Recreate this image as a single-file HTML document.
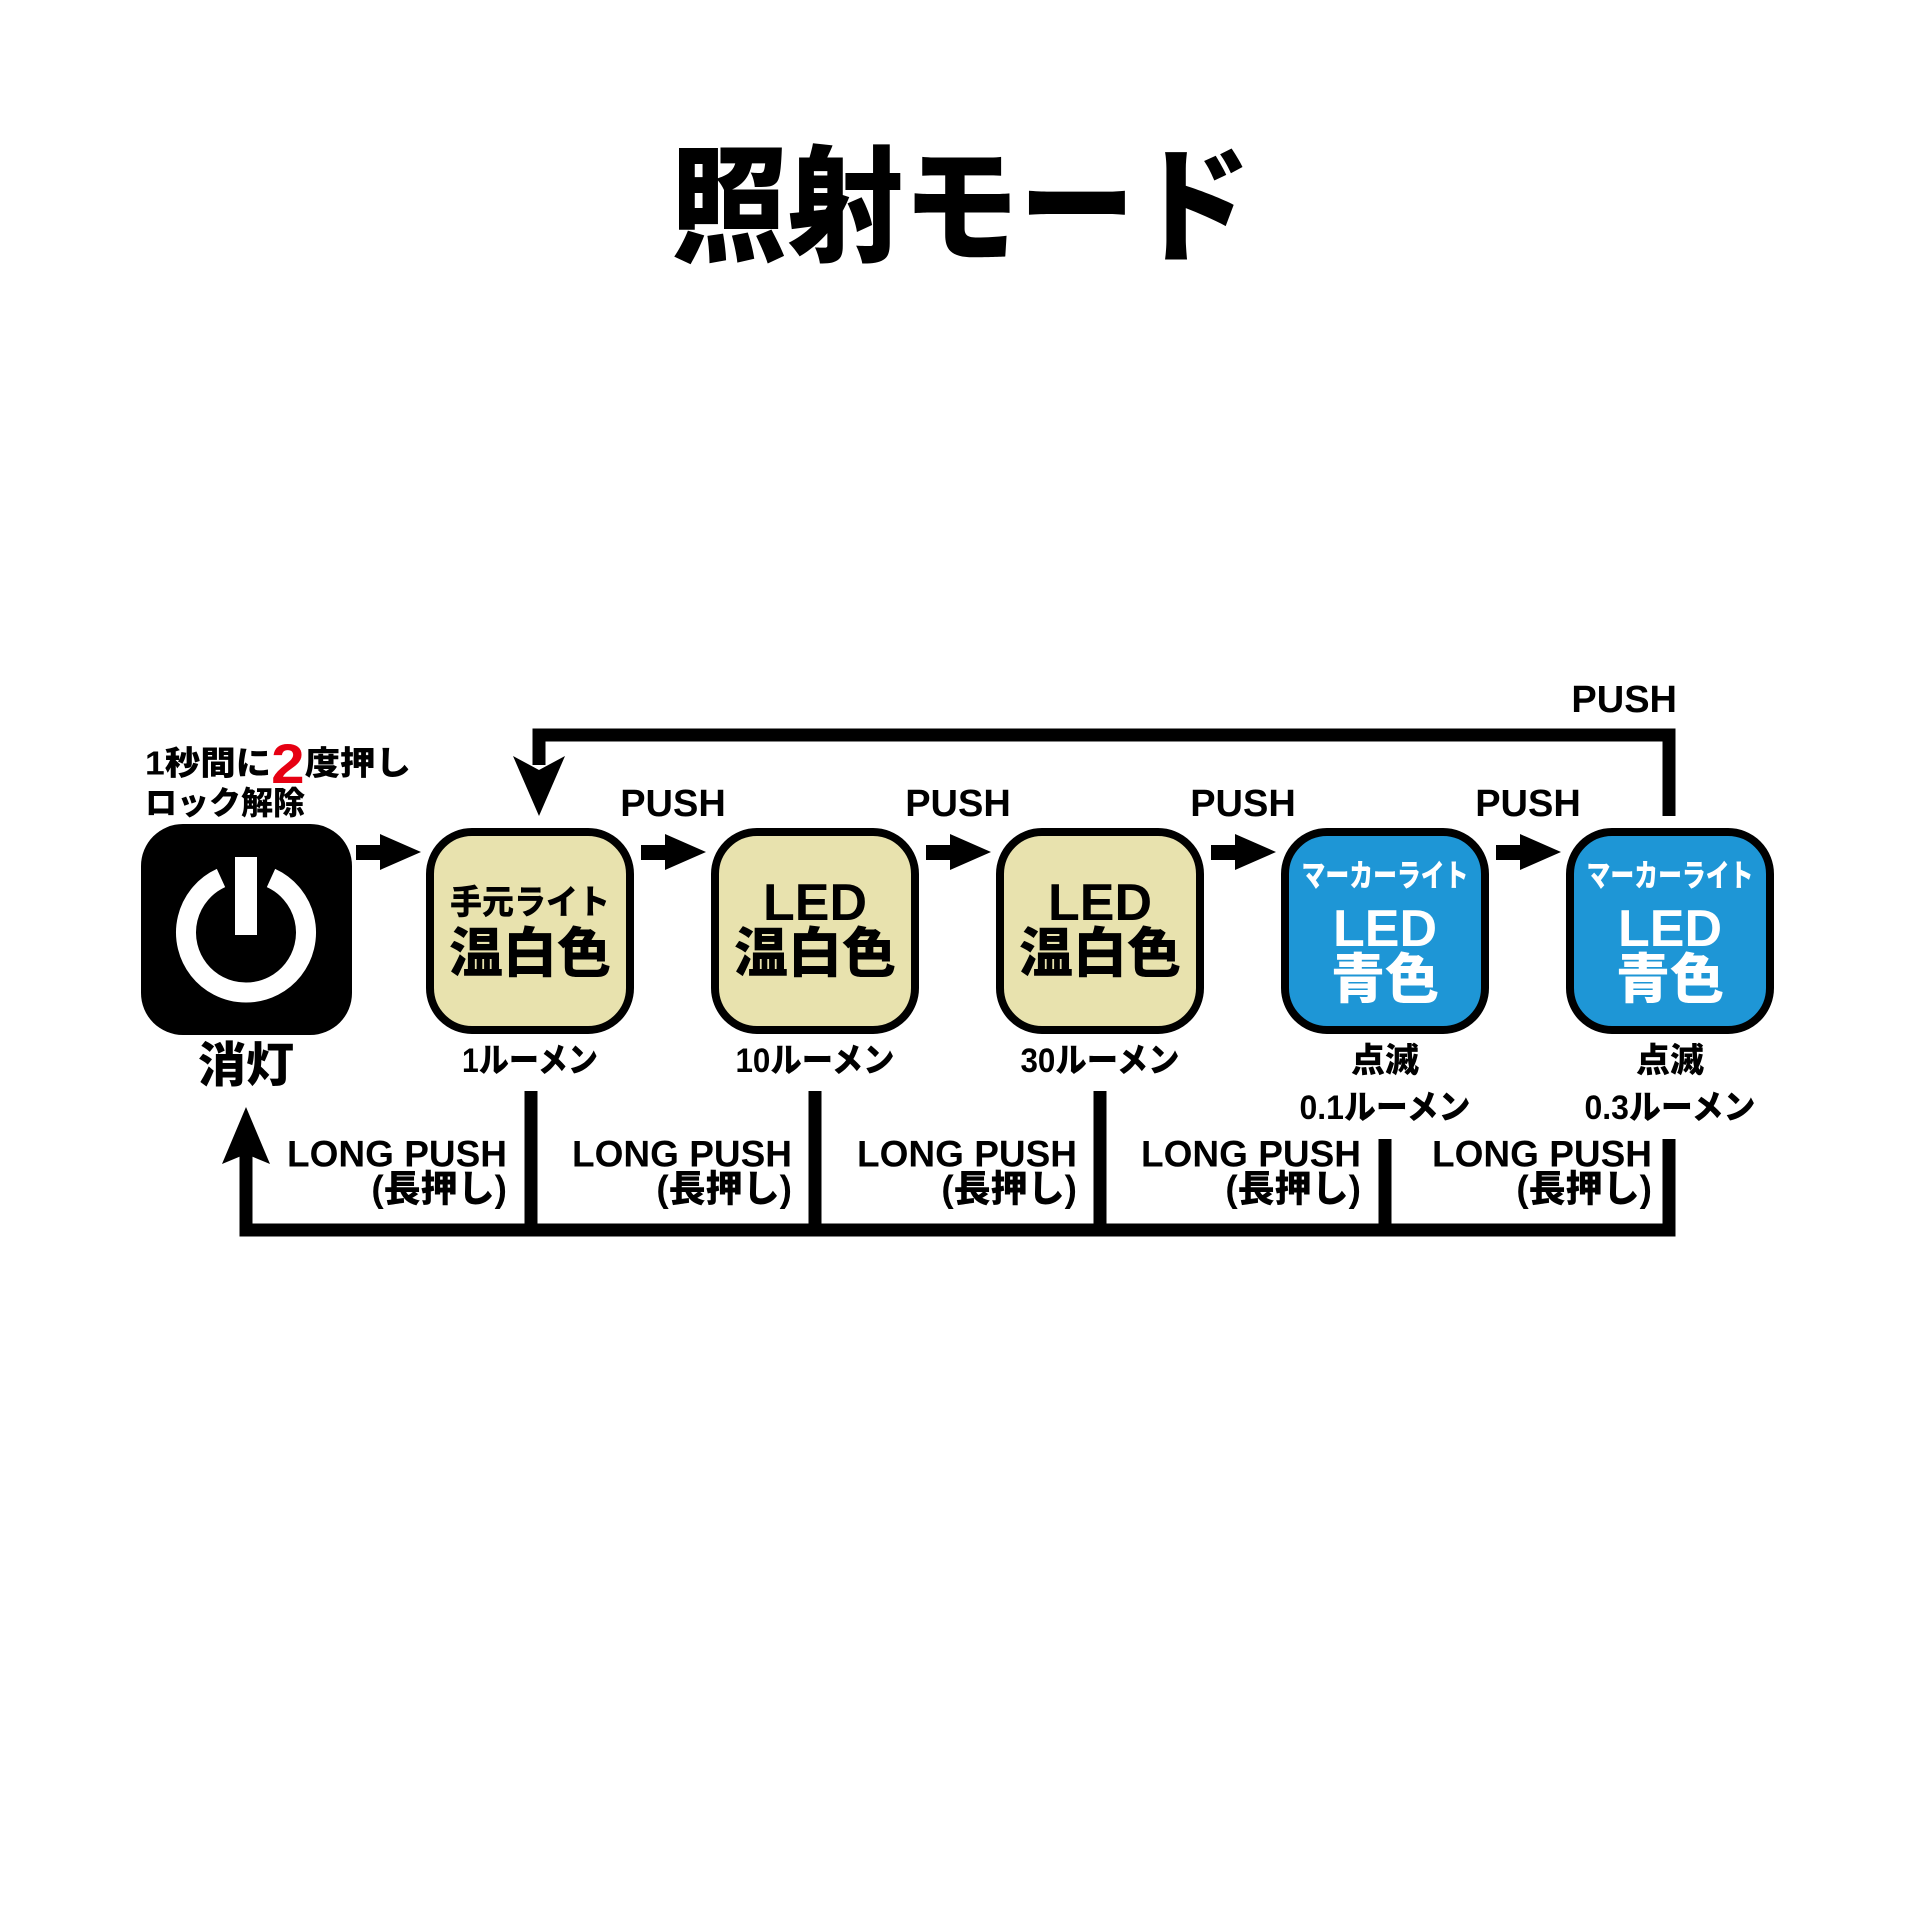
<!DOCTYPE html>
<html><head><meta charset="utf-8"><style>
html,body{margin:0;padding:0;background:#fff}
svg{display:block}
text{font-family:"Liberation Sans","Noto Sans CJK JP",sans-serif;font-weight:900}
</style></head><body>
<svg width="1920" height="1920" viewBox="0 0 1920 1920" xmlns="http://www.w3.org/2000/svg">
<rect width="1920" height="1920" fill="#fff"/>
<text x="671" y="208" font-size="126" textLength="580" lengthAdjust="spacingAndGlyphs" dominant-baseline="central" fill="#000">照射モード</text>

<!-- top loop -->
<polyline points="1669,816 1669,735 539,735 539,765" fill="none" stroke="#000" stroke-width="13"/>
<polygon points="513,756 539,770 565,756 539,816" fill="#000"/>
<text x="1677" y="700" font-size="38" text-anchor="end" dominant-baseline="central">PUSH</text>

<!-- power box -->
<rect x="141" y="824" width="211" height="211" rx="42" fill="#000"/>
<path d="M 221 878 A 60 60 0 1 0 271 878" fill="none" stroke="#fff" stroke-width="20"/>
<rect x="235" y="857" width="22" height="78" fill="#fff"/>
<text x="145" y="763" font-size="33" dominant-baseline="central" textLength="266" lengthAdjust="spacingAndGlyphs">1秒間に<tspan fill="#e60012" font-size="56">2</tspan>度押し</text>
<text x="145" y="803" font-size="32" dominant-baseline="central">ロック解除</text>
<text x="246" y="1066" font-size="48" text-anchor="middle" dominant-baseline="central">消灯</text>

<!-- arrows between boxes -->
<g fill="#000">
<path d="M356,845 H380 V834 L421,852 L380,870 V860 H356 Z"/>
<path d="M641,845 H665 V834 L706,852 L665,870 V860 H641 Z"/>
<path d="M926,845 H950 V834 L991,852 L950,870 V860 H926 Z"/>
<path d="M1211,845 H1235 V834 L1276,852 L1235,870 V860 H1211 Z"/>
<path d="M1496,845 H1520 V834 L1561,852 L1520,870 V860 H1496 Z"/>
</g>
<g font-size="38" text-anchor="middle" dominant-baseline="central">
<text x="673" y="804">PUSH</text>
<text x="958" y="804">PUSH</text>
<text x="1243" y="804">PUSH</text>
<text x="1528" y="804">PUSH</text>
</g>

<!-- boxes -->
<g stroke="#000" stroke-width="8">
<rect x="430" y="832" width="200" height="198" rx="42" fill="#e8e2ae"/>
<rect x="715" y="832" width="200" height="198" rx="42" fill="#e8e2ae"/>
<rect x="1000" y="832" width="200" height="198" rx="42" fill="#e8e2ae"/>
<rect x="1285" y="832" width="200" height="198" rx="42" fill="#1e96d6"/>
<rect x="1570" y="832" width="200" height="198" rx="42" fill="#1e96d6"/>
</g>
<g text-anchor="middle" dominant-baseline="central">
<text x="530" y="903" font-size="34" textLength="160" lengthAdjust="spacingAndGlyphs">手元ライト</text>
<text x="530" y="954" font-size="54">温白色</text>
<text x="815" y="903" font-size="52">LED</text>
<text x="815" y="954" font-size="54">温白色</text>
<text x="1100" y="903" font-size="52">LED</text>
<text x="1100" y="954" font-size="54">温白色</text>
<g fill="#fff">
<text x="1385" y="876" font-size="31" textLength="167" lengthAdjust="spacingAndGlyphs">マーカーライト</text>
<text x="1385" y="929" font-size="52">LED</text>
<text x="1385" y="980" font-size="54">青色</text>
<text x="1670" y="876" font-size="31" textLength="167" lengthAdjust="spacingAndGlyphs">マーカーライト</text>
<text x="1670" y="929" font-size="52">LED</text>
<text x="1670" y="980" font-size="54">青色</text>
</g>
<g font-size="34" lengthAdjust="spacingAndGlyphs">
<text x="530" y="1061" textLength="136" lengthAdjust="spacingAndGlyphs">1ルーメン</text>
<text x="815" y="1061" textLength="159" lengthAdjust="spacingAndGlyphs">10ルーメン</text>
<text x="1100" y="1061" textLength="159" lengthAdjust="spacingAndGlyphs">30ルーメン</text>
<text x="1385" y="1061">点滅</text>
<text x="1385" y="1108" textLength="171" lengthAdjust="spacingAndGlyphs">0.1ルーメン</text>
<text x="1670" y="1061">点滅</text>
<text x="1670" y="1108" textLength="171" lengthAdjust="spacingAndGlyphs">0.3ルーメン</text>
</g>
</g>

<!-- bottom loop -->
<g stroke="#000" stroke-width="13" fill="none">
<polyline points="246,1150 246,1230 1669,1230 1669,1139"/>
<line x1="531" y1="1091" x2="531" y2="1230"/>
<line x1="815" y1="1091" x2="815" y2="1230"/>
<line x1="1100" y1="1091" x2="1100" y2="1230"/>
<line x1="1385" y1="1139" x2="1385" y2="1230"/>
</g>
<polygon points="222,1164 246,1107 270,1164 246,1154" fill="#000"/>
<g font-size="37" text-anchor="end" dominant-baseline="central">
<text x="507" y="1154">LONG PUSH</text><text x="507" y="1189">(長押し)</text>
<text x="792" y="1154">LONG PUSH</text><text x="792" y="1189">(長押し)</text>
<text x="1077" y="1154">LONG PUSH</text><text x="1077" y="1189">(長押し)</text>
<text x="1361" y="1154">LONG PUSH</text><text x="1361" y="1189">(長押し)</text>
<text x="1652" y="1154">LONG PUSH</text><text x="1652" y="1189">(長押し)</text>
</g>
</svg>
</body></html>
